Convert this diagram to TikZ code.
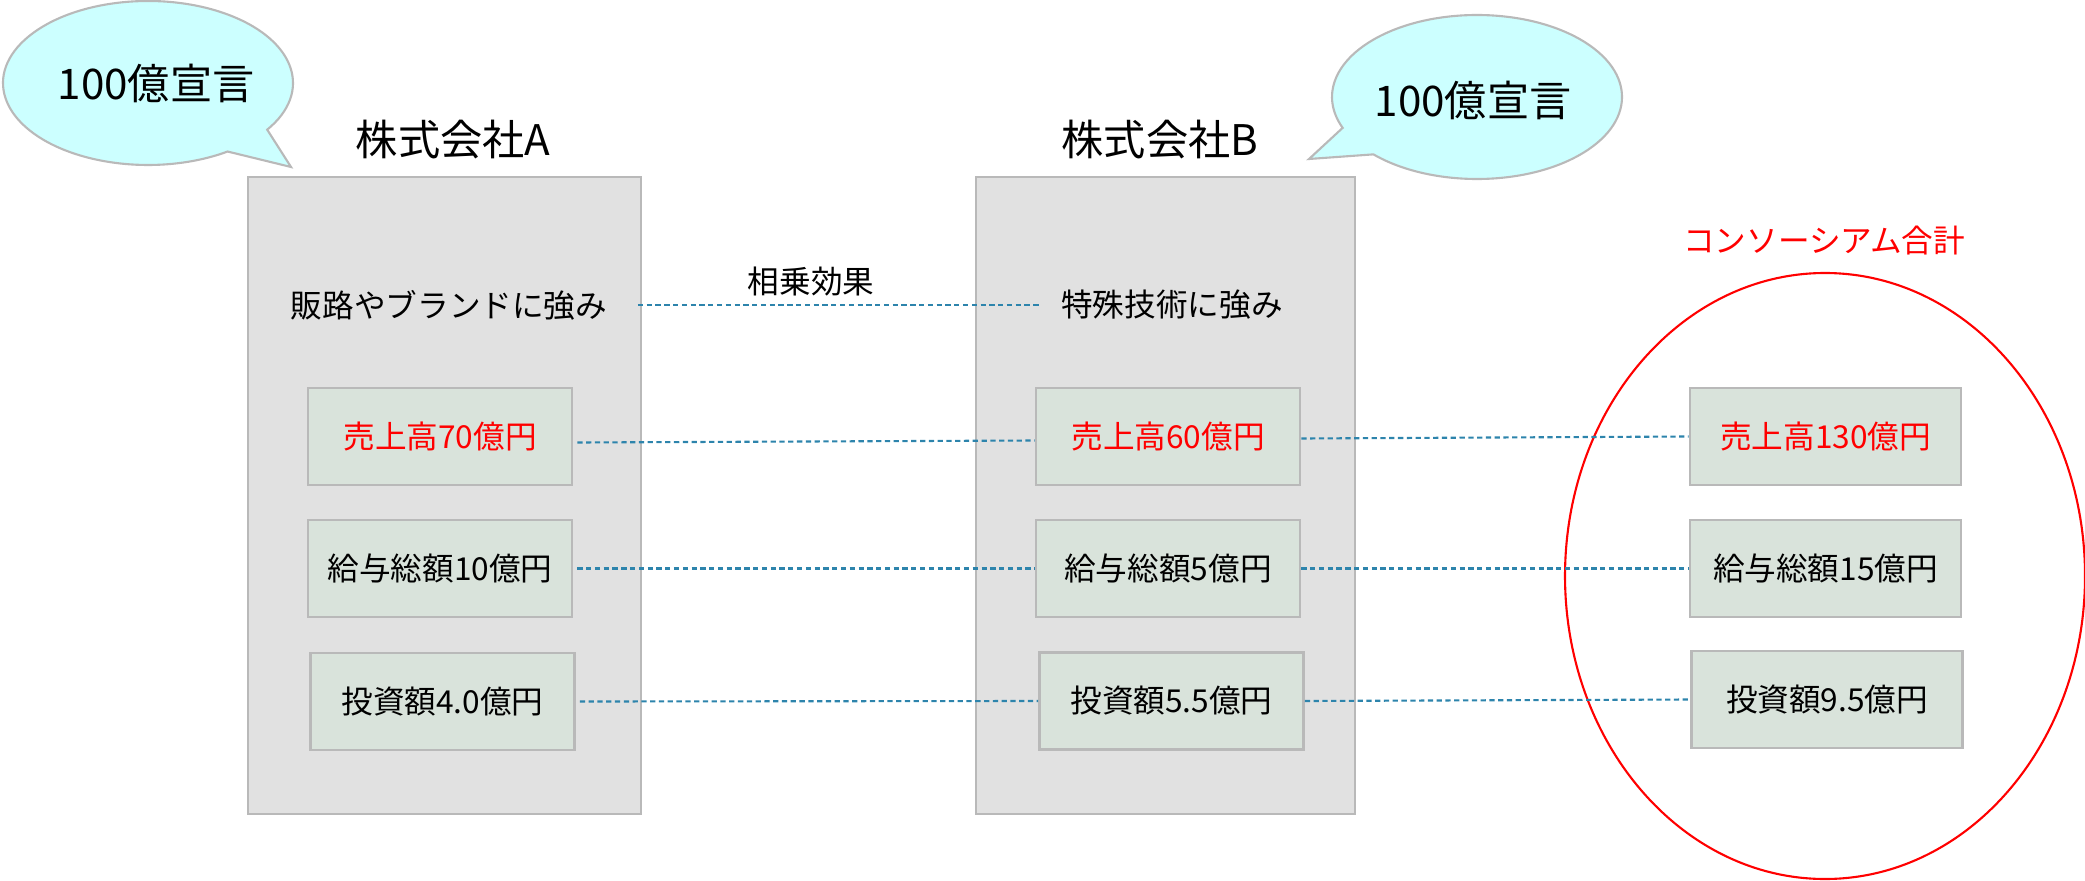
\documentclass[tikz,border=0pt]{standalone}
\usepackage{fontspec}
\setmainfont{Noto Sans CJK JP}
\usepackage{tikz}
\definecolor{firmgray}{RGB}{225,225,225}
\definecolor{edgegray}{RGB}{185,185,185}
\definecolor{figgreen}{RGB}{217,227,219}
\definecolor{linkblue}{RGB}{45,132,172}
\definecolor{bubblecyan}{RGB}{204,255,255}
\tikzstyle{firm} = [draw=edgegray, fill=firmgray, line width=0.6pt, minimum width=3.93cm, minimum height=6.37cm, inner sep=0pt]
\tikzstyle{figbox} = [draw=edgegray, fill=figgreen, line width=0.75pt, minimum width=2.64cm, minimum height=0.97cm, inner sep=0pt, font=\fontsize{9pt}{11pt}\selectfont]
\tikzstyle{sumbox} = [figbox, minimum width=2.71cm]
\tikzstyle{dashlink} = [linkblue, line width=0.6pt, dash pattern=on 1.5pt off 1pt]
\tikzstyle{bubble} = [draw=edgegray, fill=bubblecyan, line width=0.6pt]
\tikzstyle{heading} = [inner sep=0pt, font=\fontsize{12pt}{14pt}\selectfont]
\tikzstyle{remark} = [inner sep=0pt, font=\fontsize{9pt}{11pt}\selectfont]

\begin{document}
\begin{tikzpicture}
	\useasboundingbox (0,0) rectangle (20.85,8.8);
	% callouts
	\draw[bubble] (1.48,7.97) ++(-34.7:1.45 and 0.82) arc[start angle=-34.7, end angle=303.3, x radius=1.45, y radius=0.82] -- (2.91,7.13) -- cycle;
	\node[heading] (declA) at (1.56,7.97) {100億宣言};
	\draw[bubble] (14.77,7.83) ++(224.4:1.45 and 0.82) arc[start angle=224.4, end angle=562.1, x radius=1.45, y radius=0.82] -- (13.09,7.21) -- cycle;
	\node[heading] (declB) at (14.73,7.80) {100億宣言};
	% companies
	\node[firm] (firmA) at (4.445,3.845) {};
	\node[firm, minimum width=3.79cm] (firmB) at (11.655,3.845) {};
	\node[heading] (nameA) at (4.53,7.40) {株式会社A};
	\node[heading] (nameB) at (11.60,7.40) {株式会社B};
	\node[remark] (strA) at (4.49,5.75) {販路やブランドに強み};
	\node[remark] (strB) at (11.72,5.75) {特殊技術に強み};
	\node[remark] (synergy) at (8.11,5.98) {相乗効果};
	\node[figbox, text=red] (salesA) at (4.40,4.435) {売上高70億円};
	\node[figbox] (payA) at (4.40,3.115) {給与総額10億円};
	\node[figbox] (invA) at (4.425,1.785) {投資額4.0億円};
	\node[figbox, text=red] (salesB) at (11.68,4.435) {売上高60億円};
	\node[figbox] (payB) at (11.68,3.115) {給与総額5億円};
	\node[figbox] (invB) at (11.715,1.79) {投資額5.5億円};
	% consortium
	\draw[red, line width=0.6pt] (18.25,3.04) ellipse [x radius=2.60, y radius=3.03];
	\node[remark, text=red] (cons) at (18.24,6.39) {コンソーシアム合計};
	\node[sumbox, text=red] (salesC) at (18.255,4.435) {売上高130億円};
	\node[sumbox] (payC) at (18.255,3.115) {給与総額15億円};
	\node[sumbox] (invC) at (18.27,1.805) {投資額9.5億円};
	% links
	\draw[dashlink] ([xshift=0.3cm]strA.east) -- ([xshift=-0.2cm]strB.west);
	\draw[dashlink] ([xshift=0.04cm,yshift=-0.06cm]salesA.east) -- ([yshift=-0.04cm]salesB.west);
	\draw[dashlink] ([xshift=0.04cm]payA.east) -- (payB.west);
	\draw[dashlink] ([xshift=0.04cm]invA.east) -- (invB.west);
	\draw[dashlink] ([yshift=-0.02cm]salesB.east) -- (salesC.west);
	\draw[dashlink] (payB.east) -- (payC.west);
	\draw[dashlink] (invB.east) -- (invC.west);
\end{tikzpicture}
\end{document}
